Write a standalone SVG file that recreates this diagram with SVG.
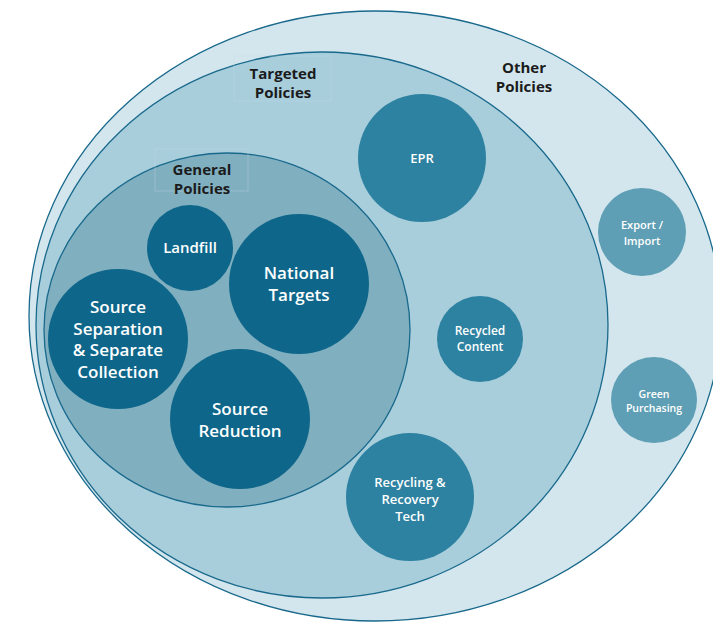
<svg xmlns="http://www.w3.org/2000/svg" width="713" height="623" viewBox="0 0 713 623">
<style>
.ring{stroke:#19698c;stroke-width:1.3}
.dark{fill:#0e678b}
.mid{fill:#2e82a1}
.light{fill:#5f9fb5}
.hd{font-family:"Open Sans",Lato,sans-serif;font-weight:700;fill:#1b1b1b;text-anchor:middle}
.lb{font-family:"Open Sans",Lato,sans-serif;font-weight:600;fill:#ffffff;text-anchor:middle}
.box{fill:none;stroke:#c4dde6;stroke-width:1;opacity:0.35}
</style>
<rect width="713" height="623" fill="#ffffff"/>
<g id="other-policies">
<ellipse class="ring" cx="375" cy="316" rx="346" ry="305" fill="#d3e6ed"/>
<text class="hd" font-size="15" x="524" y="73">Other</text>
<text class="hd" font-size="15" x="524" y="92">Policies</text>
</g>
<g id="targeted-policies">
<ellipse class="ring" cx="322" cy="325" rx="286" ry="273" fill="#a8cedc"/>
<rect class="box" x="234" y="56" width="97" height="45"/>
<text class="hd" font-size="15" x="283" y="79">Targeted</text>
<text class="hd" font-size="15" x="283" y="98">Policies</text>
</g>
<g id="general-policies">
<ellipse class="ring" cx="227" cy="330" rx="183" ry="177" fill="#80afbf"/>
<rect class="box" x="155" y="149" width="93" height="42"/>
<text class="hd" font-size="15" x="202" y="175">General</text>
<text class="hd" font-size="15" x="202" y="194">Policies</text>
</g>
<g id="landfill">
<circle class="dark" cx="190" cy="248" r="43"/>
<text class="lb" font-size="15" x="190" y="253">Landfill</text>
</g>
<g id="national-targets">
<circle class="dark" cx="299" cy="284" r="70"/>
<text class="lb" font-size="17" x="299" y="279">National</text>
<text class="lb" font-size="17" x="299" y="301">Targets</text>
</g>
<g id="source-separation">
<circle class="dark" cx="118" cy="339" r="70"/>
<text class="lb" font-size="17" x="118" y="313">Source</text>
<text class="lb" font-size="17" x="118" y="335">Separation</text>
<text class="lb" font-size="17" x="118" y="356">&amp; Separate</text>
<text class="lb" font-size="17" x="118" y="378">Collection</text>
</g>
<g id="source-reduction">
<circle class="dark" cx="240" cy="419" r="70"/>
<text class="lb" font-size="17" x="240" y="415">Source</text>
<text class="lb" font-size="17" x="240" y="437">Reduction</text>
</g>
<g id="epr">
<circle class="mid" cx="422" cy="158" r="64"/>
<text class="lb" font-size="13" x="422" y="163">EPR</text>
</g>
<g id="recycled-content">
<circle class="mid" cx="480" cy="339" r="43"/>
<text class="lb" font-size="12" x="480" y="335">Recycled</text>
<text class="lb" font-size="12" x="480" y="351">Content</text>
</g>
<g id="recycling-recovery-tech">
<circle class="mid" cx="410" cy="497" r="64"/>
<text class="lb" font-size="13" x="410" y="487">Recycling &amp;</text>
<text class="lb" font-size="13" x="410" y="504">Recovery</text>
<text class="lb" font-size="13" x="410" y="521">Tech</text>
</g>
<g id="export-import">
<circle class="light" cx="642" cy="232" r="44"/>
<text class="lb" font-size="11" x="642" y="229">Export /</text>
<text class="lb" font-size="11" x="642" y="245">Import</text>
</g>
<g id="green-purchasing">
<circle class="light" cx="654" cy="400" r="43"/>
<text class="lb" font-size="10.5" x="654" y="398">Green</text>
<text class="lb" font-size="10.5" x="654" y="412">Purchasing</text>
</g>
<g id="connectors"/>
</svg>
